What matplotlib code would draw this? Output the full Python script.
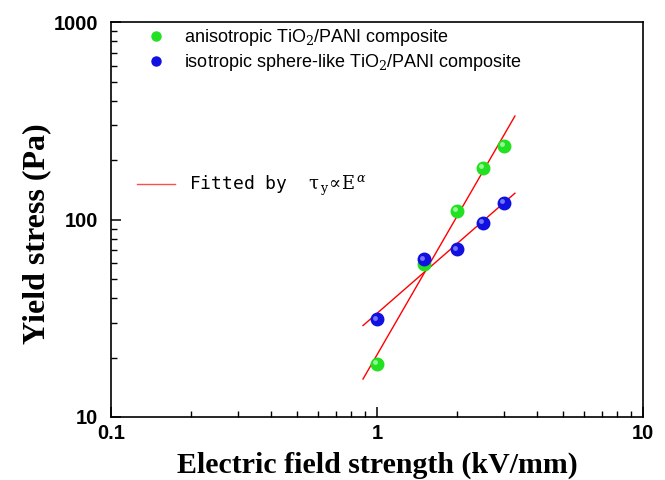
import numpy as np
import matplotlib
matplotlib.use("Agg")
import matplotlib.pyplot as plt
from matplotlib.lines import Line2D
from matplotlib import transforms

# Data
field = [1.0, 1.5, 2.0, 2.5, 3.0]
stress_aniso = [18.6, 59.6, 111, 183, 237]
stress_iso = [31.2, 62.9, 70.7, 96.2, 121.6]
fit_range = [0.886, 3.3]
label_aniso = r"anisotropic TiO$_2$/PANI composite"
label_iso = r"isotropic sphere-like TiO$_2$/PANI composite"
label_fit = r"Fitted by  $\mathrm{\tau}_{\,\mathrm{y}}\!\propto\!\mathrm{E}^{\,\alpha}$"

plt.rcParams["mathtext.fontset"] = "dejavuserif"

fig = plt.figure(figsize=(6.65, 4.8), dpi=100)
ax = fig.add_axes([0.1669, 0.1313, 0.80, 0.8227])
ax.set_xscale("log")
ax.set_yscale("log")
ax.set_xlim(0.1, 10)
ax.set_ylim(10, 1000)

# fitted lines (least squares in log-log)
xf = np.array(fit_range)
for ys in (stress_aniso, stress_iso):
    p = np.polyfit(np.log10(field), np.log10(ys), 1)
    ax.plot(xf, 10 ** np.polyval(p, np.log10(xf)), color="red", lw=1.0, zorder=2)

def sphere(x, y, color, light, z):
    ax.plot(x, y, "o", ms=9, color=color, mec=color, zorder=z)
    off = transforms.offset_copy(ax.transData, fig=fig, x=-1.2, y=1.2, units="points")
    ax.plot(x, y, "o", ms=3.5, color=light, mec="none", alpha=0.8, transform=off, zorder=z + 0.1)

sphere(field, stress_aniso, "#22e022", "#b0ffb0", 3)
sphere(field, stress_iso, "#1010e0", "#9090ff", 4)

# axes styling
for s in ax.spines.values():
    s.set_linewidth(1.2)
ax.tick_params(which="both", direction="in", top=False, right=False)
ax.tick_params(which="major", length=7, width=1.1)
ax.tick_params(which="minor", length=4, width=1.0)
ax.tick_params(axis="x", which="major", pad=5)
ax.tick_params(axis="y", which="major", pad=9)
ax.set_xticks([0.1, 1, 10])
ax.set_xticklabels(["0.1", "1", "10"])
ax.set_yticks([10, 100, 1000])
ax.set_yticklabels(["10", "100", "1000"])
for lab in ax.get_xticklabels() + ax.get_yticklabels():
    lab.set_fontfamily("Liberation Sans")
    lab.set_fontweight("bold")
    lab.set_fontsize(14.5)

ax.set_xlabel("Electric field strength (kV/mm)", fontfamily="Liberation Serif",
              fontweight="bold", fontsize=21.5, labelpad=6)
ax.set_ylabel("Yield stress (Pa)", fontfamily="Liberation Serif",
              fontweight="bold", fontsize=23)
ax.yaxis.set_label_coords(-0.113, 0.465)

# legends
h1 = Line2D([], [], ls="none", marker="o", ms=6.5, color="#22e022")
h2 = Line2D([], [], ls="none", marker="o", ms=6.5, color="#1010e0")
leg1 = ax.legend([h1, h2], [label_aniso, label_iso], loc="center left",
                 bbox_to_anchor=(0.0677, 0.929), frameon=False,
                 prop={"family": "Liberation Sans", "size": 13},
                 handlelength=1.0, handletextpad=1.05, labelspacing=0.25,
                 borderaxespad=0, borderpad=0)
ax.add_artist(leg1)
h3 = Line2D([], [], color="red", lw=1.0, alpha=0.7)
ax.legend([h3], [label_fit], loc="center left", bbox_to_anchor=(0.0489, 0.585),
          frameon=False, prop={"family": "DejaVu Sans Mono", "size": 13},
          handlelength=2.1, handletextpad=0.8, borderaxespad=0, borderpad=0)

fig.savefig("out.png", dpi=100)
